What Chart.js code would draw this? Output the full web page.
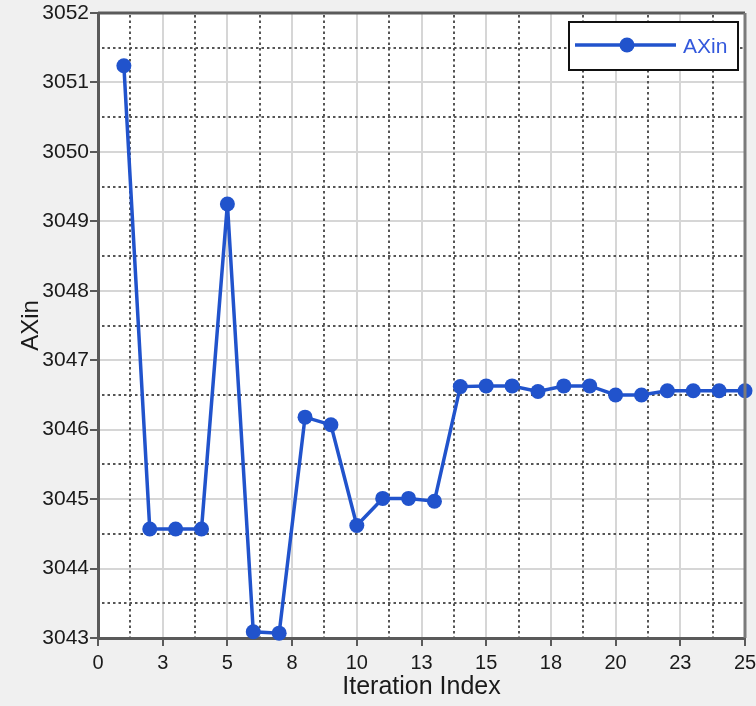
<!DOCTYPE html>
<html lang="en">

<head>
    <meta charset="UTF-8">
    <title>AXin per iteration</title>
    <script src="https://cdn.jsdelivr.net/npm/chart.js"></script>
    <style>
        body {
            margin: 0;
            background: #f0f0f0;
        }

        #wrap {
            width: 756px;
            height: 706px;
        }
    </style>
</head>

<body>
    <div id="wrap">
        <canvas id="axinChart" width="756" height="706"></canvas>
    </div>

    <script>
        // iteration data
        const iterations = [1, 2, 3, 4, 5, 6, 7, 8, 9, 10, 11, 12, 13, 14, 15, 16, 17, 18, 19, 20, 21, 22, 23, 24, 25];
        const axinValues = [3051.24, 3044.57, 3044.57, 3044.57, 3049.25, 3043.09, 3043.07, 3046.18, 3046.07, 3044.62,
            3045.01, 3045.01, 3044.97, 3046.62, 3046.63, 3046.63, 3046.55, 3046.63, 3046.63, 3046.50,
            3046.50, 3046.56, 3046.56, 3046.56, 3046.56];
        const xTickLabels = ['0', '3', '5', '8', '10', '13', '15', '18', '20', '23', '25'];
        const yTickLabels = ['3043', '3044', '3045', '3046', '3047', '3048', '3049', '3050', '3051', '3052'];

        const lineBlue = '#2153cc';
        const frameGray = '#5a5a5a';

        Chart.defaults.font.family = "'Liberation Sans', Arial, sans-serif";
        Chart.defaults.color = '#1a1a1a';

        // white plot area on the grey page
        const plotBackground = {
            id: 'plotBackground',
            beforeDraw(chart) {
                const { ctx, chartArea: a } = chart;
                ctx.save();
                ctx.fillStyle = '#ffffff';
                ctx.fillRect(a.left, a.top, a.right - a.left, a.bottom - a.top);
                ctx.restore();
            }
        };

        // dotted lines halfway between the major grid lines
        const minorGrid = {
            id: 'minorGrid',
            beforeDatasetsDraw(chart) {
                const { ctx, chartArea: a, scales: { x, y } } = chart;
                ctx.save();
                ctx.strokeStyle = '#555555';
                ctx.lineWidth = 2;
                ctx.setLineDash([2.5, 3]);
                for (let i = 0; i < xTickLabels.length - 1; i++) {
                    const px = Math.round(x.getPixelForValue(i * 2.5 + 1.25));
                    ctx.beginPath();
                    ctx.moveTo(px, a.top + 2);
                    ctx.lineTo(px, a.bottom);
                    ctx.stroke();
                }
                for (let i = 0; i < yTickLabels.length - 1; i++) {
                    const py = Math.round(y.getPixelForValue(3043.5 + i));
                    ctx.beginPath();
                    ctx.moveTo(a.left + 4, py);
                    ctx.lineTo(a.right, py);
                    ctx.stroke();
                }
                ctx.restore();
            }
        };

        // top and right edges of the plot frame, plus the boxed legend
        const frameAndLegend = {
            id: 'frameAndLegend',
            afterDraw(chart) {
                const { ctx, chartArea: a } = chart;
                ctx.save();
                ctx.lineWidth = 3;
                ctx.strokeStyle = frameGray;
                ctx.beginPath();
                ctx.moveTo(a.left, a.top);
                ctx.lineTo(a.right, a.top);
                ctx.stroke();
                ctx.strokeStyle = '#7a7a7a';
                ctx.beginPath();
                ctx.moveTo(a.right, a.top);
                ctx.lineTo(a.right, a.bottom);
                ctx.stroke();

                // legend
                const bx = 569, by = 22, bw = 169, bh = 48;
                ctx.fillStyle = '#ffffff';
                ctx.fillRect(bx, by, bw, bh);
                ctx.lineWidth = 2;
                ctx.strokeStyle = '#111111';
                ctx.strokeRect(bx, by, bw, bh);

                const ds = chart.data.datasets[0];
                ctx.strokeStyle = lineBlue;
                ctx.lineWidth = 3.5;
                ctx.beginPath();
                ctx.moveTo(575, 45);
                ctx.lineTo(676, 45);
                ctx.stroke();
                ctx.fillStyle = lineBlue;
                ctx.beginPath();
                ctx.arc(627, 45, 7.5, 0, Math.PI * 2);
                ctx.fill();

                ctx.fillStyle = '#3358dc';
                ctx.font = "21px 'Liberation Sans', Arial, sans-serif";
                ctx.textBaseline = 'middle';
                ctx.fillText(ds.label, 683, 47);
                ctx.restore();
            }
        };

        new Chart(document.getElementById('axinChart').getContext('2d'), {
            type: 'line',
            data: {
                datasets: [{
                    label: 'AXin',
                    data: iterations.map((it, i) => ({ x: it, y: axinValues[i] })),
                    borderColor: lineBlue,
                    backgroundColor: lineBlue,
                    borderWidth: 3.5,
                    pointStyle: 'circle',
                    pointRadius: 7.5,
                    pointBorderWidth: 0,
                    tension: 0,
                    clip: false
                }]
            },
            options: {
                responsive: false,
                animation: false,
                events: [],
                layout: {
                    padding: { top: 13, right: 0, left: 0, bottom: 0 }
                },
                plugins: {
                    legend: { display: false },
                    tooltip: { enabled: false }
                },
                scales: {
                    x: {
                        type: 'linear',
                        min: 0,
                        max: 25,
                        afterFit(scale) {
                            scale.height = 68;
                            scale.paddingLeft = 0;
                            scale.paddingRight = 11;
                        },
                        ticks: {
                            stepSize: 2.5,
                            padding: 5,
                            font: { size: 20 },
                            color: '#1a1a1a',
                            callback: (value, index) => xTickLabels[index]
                        },
                        grid: {
                            color: '#d6d6d6',
                            lineWidth: 2,
                            tickColor: frameGray,
                            tickLength: 8,
                            tickWidth: 2
                        },
                        border: { color: frameGray, width: 3 },
                        title: {
                            display: true,
                            text: 'Iteration Index',
                            font: { size: 25 },
                            color: '#1a1a1a',
                            padding: { top: 0, bottom: 4 }
                        }
                    },
                    y: {
                        min: 3043,
                        max: 3052,
                        afterFit(scale) {
                            scale.width = 98;
                            scale.paddingTop = 13;
                            scale.paddingBottom = 0;
                        },
                        ticks: {
                            stepSize: 1,
                            padding: 1,
                            font: { size: 21 },
                            color: '#1a1a1a',
                            callback: (value, index) => yTickLabels[index]
                        },
                        grid: {
                            color: '#d6d6d6',
                            lineWidth: 2,
                            tickColor: frameGray,
                            tickLength: 8,
                            tickWidth: 2
                        },
                        border: { color: frameGray, width: 3 },
                        title: {
                            display: true,
                            text: 'AXin',
                            font: { size: 24 },
                            color: '#1a1a1a',
                            padding: { top: 17, bottom: 0 }
                        }
                    }
                }
            },
            plugins: [plotBackground, minorGrid, frameAndLegend]
        });
    </script>
</body>

</html>
